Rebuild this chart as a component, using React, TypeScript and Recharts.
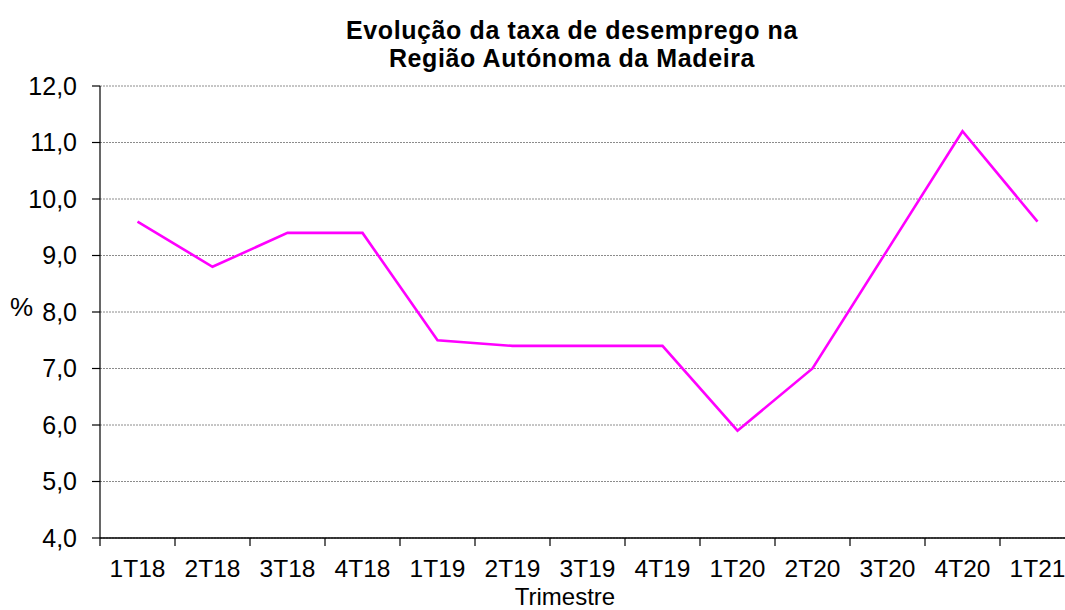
import React from 'react';
import { LineChart, Line, XAxis, YAxis, CartesianGrid } from 'recharts';

const quarters = ['1T18', '2T18', '3T18', '4T18', '1T19', '2T19', '3T19', '4T19', '1T20', '2T20', '3T20', '4T20', '1T21'];
const rates = [9.6, 8.8, 9.4, 9.4, 7.5, 7.4, 7.4, 7.4, 5.9, 7.0, 9.1, 11.2, 9.6];
const yTicks = [4, 5, 6, 7, 8, 9, 10, 11, 12];
const titleLines = ['Evolução da taxa de desemprego na', 'Região Autónoma da Madeira'];
const xTitle = 'Trimestre';
const yTitle = '%';

const data = quarters.map((q, i) => ({ q, v: rates[i] }));

const W = 1080;
const H = 610;
const X_AXIS_H = 72;
const M = { top: 86, right: 5, bottom: 0, left: 0 };
const Y_AXIS_W = 100;
const PLOT_W = W - M.left - M.right - Y_AXIS_W;
const BAND = PLOT_W / quarters.length;
const PLOT_BOTTOM = H - M.bottom - X_AXIS_H;
const FONT = '"Liberation Sans", Arial, sans-serif';

const XTick = (props: any) => {
  const { x, payload } = props;
  return (
    <g>
      <line x1={x - BAND / 2} x2={x - BAND / 2} y1={PLOT_BOTTOM} y2={PLOT_BOTTOM + 8} stroke="#000" strokeWidth={1.2} />
      <text x={x} y={PLOT_BOTTOM + 39} textAnchor="middle" fontSize={24.5} fontFamily={FONT} fill="#000">
        {payload.value}
      </text>
    </g>
  );
};

export default function App() {
  return (
    <div style={{ position: 'absolute', left: 0, top: 0, width: 1065, height: 610, overflow: 'hidden', background: '#fff' }}>
      <LineChart width={W} height={H} data={data} margin={M}>
        <CartesianGrid vertical={false} stroke="#8c8c8c" strokeDasharray="2 1" />
        <XAxis
          dataKey="q"
          scale="band"
          height={X_AXIS_H}
          interval={0}
          tickLine={false}
          axisLine={{ stroke: '#000', strokeWidth: 1.5 }}
          tick={<XTick />}
        />
        <YAxis
          width={Y_AXIS_W}
          domain={[4, 12]}
          ticks={yTicks}
          interval={0}
          tickFormatter={(v: number) => v.toFixed(1).replace('.', ',')}
          axisLine={{ stroke: '#000', strokeWidth: 1.2 }}
          tickLine={{ stroke: '#000', strokeWidth: 1.2 }}
          tickSize={8}
          tickMargin={15}
          tick={{ fill: '#000', fontSize: 25, fontFamily: FONT }}
          label={{ value: yTitle, position: 'insideLeft', offset: 10, dy: -5, fill: '#000', fontSize: 26, fontFamily: FONT }}
        />
        <Line type="linear" dataKey="v" stroke="#ff00ff" strokeWidth={2.6} dot={false} isAnimationActive={false} />
      </LineChart>
      <svg width={1065} height={610} style={{ position: 'absolute', left: 0, top: 0, pointerEvents: 'none' }}>
        {titleLines.map((t, i) => (
          <text key={i} x={572} y={39 + i * 28} textAnchor="middle" fontSize={25} letterSpacing={0.6} fontWeight="bold" fontFamily={FONT} fill="#000">
            {t}
          </text>
        ))}
        <text x={565} y={605} textAnchor="middle" fontSize={24} fontFamily={FONT} fill="#000">
          {xTitle}
        </text>
      </svg>
    </div>
  );
}
